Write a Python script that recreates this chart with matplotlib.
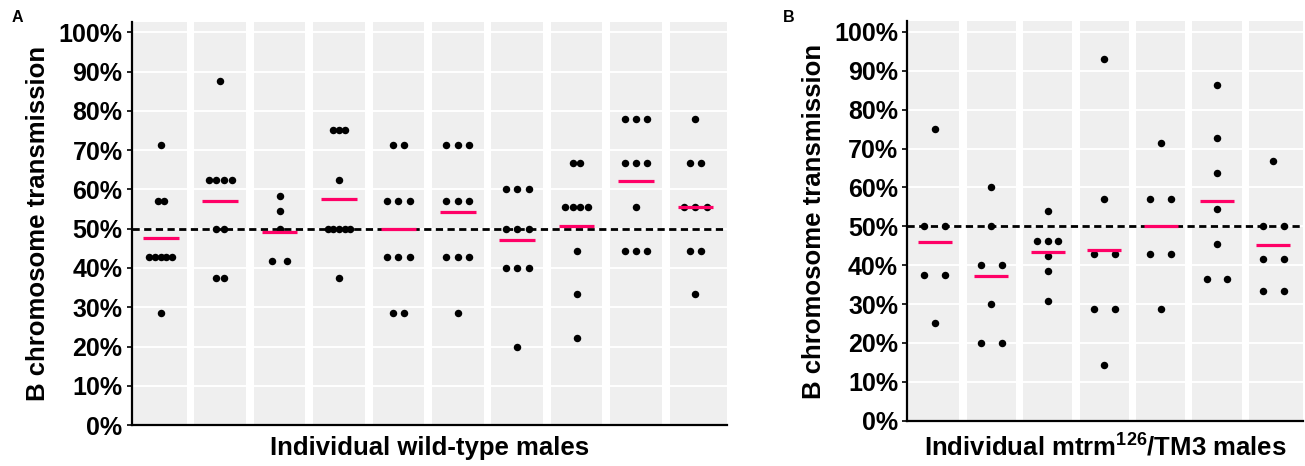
import numpy as np
import matplotlib
matplotlib.use('Agg')
import matplotlib.pyplot as plt
from matplotlib.ticker import FuncFormatter

plt.rcParams['font.family'] = 'Liberation Sans'
plt.rcParams['font.weight'] = 'bold'
plt.rcParams['mathtext.fontset'] = 'custom'
plt.rcParams['mathtext.rm'] = 'Liberation Sans:bold'
plt.rcParams['mathtext.bf'] = 'Liberation Sans:bold'

# B chromosome transmission (%) per offspring batch, one list per male
wt_males = [
    [71.4, 57.1, 57.1, 42.9, 42.9, 42.9, 42.9, 42.9, 28.6],
    [87.5, 62.5, 62.5, 62.5, 62.5, 50.0, 50.0, 37.5, 37.5],
    [58.3, 54.5, 50.0, 41.7, 41.7],
    [75.0, 75.0, 75.0, 62.5, 50.0, 50.0, 50.0, 50.0, 50.0, 37.5],
    [71.4, 71.4, 57.1, 57.1, 57.1, 42.9, 42.9, 42.9, 28.6, 28.6],
    [71.4, 71.4, 71.4, 57.1, 57.1, 57.1, 42.9, 42.9, 42.9, 28.6],
    [60.0, 60.0, 60.0, 50.0, 50.0, 50.0, 40.0, 40.0, 40.0, 20.0],
    [66.7, 66.7, 55.6, 55.6, 55.6, 55.6, 44.4, 33.3, 22.2],
    [77.8, 77.8, 77.8, 66.7, 66.7, 66.7, 55.6, 44.4, 44.4, 44.4],
    [77.8, 66.7, 66.7, 55.6, 55.6, 55.6, 44.4, 44.4, 33.3],
]

mtrm_males = [
    [75.0, 50.0, 50.0, 37.5, 37.5, 25.0],
    [60.0, 50.0, 40.0, 40.0, 30.0, 20.0, 20.0],
    [53.8, 46.2, 46.2, 46.2, 42.3, 38.5, 30.8],
    [92.9, 57.1, 42.9, 42.9, 28.6, 28.6, 14.3],
    [71.4, 57.1, 57.1, 42.9, 42.9, 28.6],
    [86.4, 72.7, 63.6, 54.5, 45.5, 36.4, 36.4],
    [66.7, 50.0, 50.0, 41.7, 41.7, 33.3, 33.3],
]

PINK = '#ff0066'
GREY = '#efefef'


# dots sharing a value are laid side by side, centred on the male's column
def dot_offsets(vals, span, cap):
    vals = np.round(np.asarray(vals, dtype=float), 1)
    uniq, counts = np.unique(vals, return_counts=True)
    m = counts.max()
    step = cap if m < 2 else min(cap, span / (m - 1))
    xs, ys = [], []
    for v, c in zip(uniq, counts):
        xs.extend((np.arange(c) - (c - 1) / 2.0) * step)
        ys.extend([v] * c)
    return np.array(xs), np.array(ys)


def draw_panel(ax, groups, span, cap, xlabel):
    n = len(groups)
    lo, hi = -0.49, n - 1 + 0.525
    for i in range(n):
        left = lo if i == 0 else i - 0.435
        right = hi if i == n - 1 else i + 0.435
        ax.axvspan(left, right, color=GREY, lw=0, zorder=0)
    for y in range(10, 101, 10):
        ax.axhline(y, color='white', lw=1.4, zorder=1)

    for i, g in enumerate(groups):
        dx, dy = dot_offsets(g, span, cap)
        ax.scatter(i + dx, dy, s=29, color='black', lw=0, zorder=3)
    ax.axhline(50, color='black', lw=2.0, ls=(0, (2.6, 1.6)), zorder=4)
    for i, g in enumerate(groups):
        ax.hlines(np.mean(g), i - 0.3, i + 0.3, color=PINK, lw=2.3, zorder=5)

    ax.set_xlim(lo, hi)
    ax.set_ylim(0, 102.7)
    ax.set_yticks(range(0, 101, 10))
    ax.yaxis.set_major_formatter(FuncFormatter(lambda v, p: '%d%%' % v))
    ax.set_xticks([])
    ax.tick_params(axis='y', length=3.6, width=1.2, pad=3, labelsize=18)
    for lab in ax.get_yticklabels():
        lab.set_fontweight('bold')
    for s in ('top', 'right'):
        ax.spines[s].set_visible(False)
    for s in ('left', 'bottom'):
        ax.spines[s].set_linewidth(1.6)
    ax.set_ylabel('B chromosome transmission', fontsize=18.5,
                  fontweight='bold', labelpad=6)
    ax.set_xlabel(xlabel, fontsize=18.5, fontweight='bold', labelpad=8)


fig = plt.figure(figsize=(13.05, 4.66), dpi=100)
axA = fig.add_axes([0.1009, 0.0876, 0.4559, 0.866])
axB = fig.add_axes([0.6952, 0.0972, 0.3033, 0.857])

draw_panel(axA, wt_males, 0.382, 0.241, 'Individual wild-type males')
draw_panel(axB, mtrm_males, 0.372, 0.372,
           r'Individual mtrm$^{\mathbf{126}}$/TM3 males')

fig.text(0.009, 0.962, 'A', fontsize=11.5, fontweight='bold', va='center')
fig.text(0.600, 0.962, 'B', fontsize=11.5, fontweight='bold', va='center')

fig.savefig('out.png', dpi=100)
